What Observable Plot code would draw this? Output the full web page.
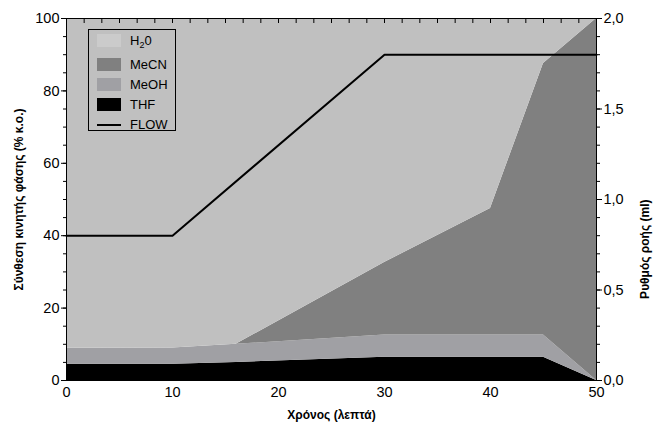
<!DOCTYPE html>
<html>
<head>
<meta charset="utf-8">
<script src="https://cdn.jsdelivr.net/npm/d3@7"></script>
<script src="https://cdn.jsdelivr.net/npm/@observablehq/plot@0.6"></script>
<style>
  html, body { margin: 0; padding: 0; background: #fff; }
  #wrap { position: relative; width: 659px; height: 435px; font-family: "Liberation Sans", Arial, sans-serif; }
  #wrap svg { position: absolute; left: 0; top: 0; }
  g[aria-label$="axis label"] text { font-weight: bold; font-size: 12px; }
  #legend { position: absolute; left: 88px; top: 29px; width: 88px; height: 102px; border: 1px solid #000; box-sizing: border-box; font-size: 13px; color: #000; }
  .item { position: absolute; left: 0; height: 14px; }
  .sw { position: absolute; left: 8px; width: 24px; }
  .lab { position: absolute; left: 41px; white-space: nowrap; line-height: 14px; }
  .lab sub { font-size: 9px; vertical-align: -3px; line-height: 0; }
</style>
</head>
<body>
<div id="wrap"></div>
<script>
// ---- data ----
const times = [0, 10, 16, 30, 40, 45, 50];            // min
const thf   = [4.5, 4.5, 5.0, 6.4, 6.4, 6.4, 0];
const meoh  = [4.4, 4.5, 5.0, 6.2, 6.2, 6.2, 0];
const mecn  = [0, 0, 0, 20.0, 34.9, 75.0, 100];
const h2o   = [91.1, 91.0, 90.0, 67.4, 52.5, 12.4, 0];
const seriesNames = ["THF", "MeOH", "MeCN", "H2O"];
const seriesColors = ["#000000", "#a0a0a4", "#808080", "#c0c0c0"];

const flowTimes  = [0, 10, 30, 50];
const flowValues = [0.8, 0.8, 1.8, 1.8];                // ml

const xTicks = [0, 10, 20, 30, 40, 50];
const yTicks = [0, 20, 40, 60, 80, 100];
const flowTicks = [0, 0.5, 1.0, 1.5, 2.0];
const flowTickLabels = ["0,0", "0,5", "1,0", "1,5", "2,0"];
const flowMax = 2.0;
const rightTitle = "Ρυθμός ροής (ml)";

const legendItems = [
  {label: "H<sub>2</sub>0", color: "#cbcbcb", type: "box"},
  {label: "MeCN", color: "#808080", type: "box"},
  {label: "MeOH", color: "#a0a0a4", type: "box"},
  {label: "THF", color: "#000000", type: "box"},
  {label: "FLOW", color: "#000000", type: "line"}
];

// ---- build tables ----
const seriesData = {THF: thf, MeOH: meoh, MeCN: mecn, H2O: h2o};
const rows = [];
for (const s of seriesNames) times.forEach((t, i) => rows.push({t, v: seriesData[s][i], s}));
const flowRows = flowTimes.map((t, i) => ({t, f: flowValues[i]}));
const toY = f => f / flowMax * 100;

const topMinor = d3.range(0, 50.001, 50 / 30);
const leftMinor = d3.range(0, 100.001, 5);

const chart = Plot.plot({
  width: 659, height: 435,
  marginLeft: 66, marginRight: 63, marginTop: 18, marginBottom: 55,
  style: {fontFamily: "'Liberation Sans', Arial, sans-serif", fontSize: "14.5px", background: "transparent", color: "#000"},
  x: {domain: [0, 50]},
  y: {domain: [0, 100]},
  color: {type: "ordinal", domain: seriesNames, range: seriesColors},
  marks: [
    Plot.areaY(rows, {x: "t", y: "v", z: "s", fill: "s", order: seriesNames, curve: "linear"}),
    Plot.line(flowRows, {x: "t", y: d => toY(d.f), stroke: "#000", strokeWidth: 2}),
    Plot.frame({stroke: "#000"}),
    Plot.axisY({anchor: "left", ticks: leftMinor, tickSize: 3, tickFormat: () => "", label: null}),
    Plot.axisY({anchor: "left", ticks: yTicks, tickSize: 5, tickPadding: 2,
      label: "Σύνθεση κινητής φάσης (% κ.ο.)", labelAnchor: "center", labelArrow: "none", labelOffset: 52}),
    Plot.axisY({anchor: "right", ticks: leftMinor, tickSize: 3, tickFormat: () => "", label: null}),
    Plot.axisY({anchor: "right", ticks: flowTicks.map(toY), tickSize: 5, tickPadding: 2,
      tickFormat: (d, i) => flowTickLabels[i], label: null}),
    Plot.text([rightTitle], {frameAnchor: "right", text: d => d, rotate: -90, dx: 49,
      fontWeight: "bold", fontSize: 12, fill: "#000"}),
    Plot.axisX({anchor: "bottom", ticks: xTicks, tickSize: 0, tickPadding: 6,
      label: "Χρόνος (λεπτά)", labelAnchor: "center", labelArrow: "none", labelOffset: 38}),
    Plot.axisX({anchor: "top", ticks: topMinor, tickSize: -4, tickFormat: () => "", label: null})
  ]
});
const wrap = document.getElementById("wrap");
wrap.appendChild(chart);

// legend (HTML overlay)
const lg = document.createElement("div");
lg.id = "legend";
const tops = [4, 28, 48, 68, 88];
legendItems.forEach((it, i) => {
  const item = document.createElement("div");
  item.className = "item";
  item.style.top = tops[i] + "px";
  const sw = document.createElement("div");
  sw.className = "sw";
  sw.style.background = it.color;
  if (it.type === "box") { sw.style.top = "0px"; sw.style.height = "13px"; }
  else { sw.style.top = "6px"; sw.style.height = "2px"; }
  const lab = document.createElement("div");
  lab.className = "lab";
  lab.style.top = "0px";
  lab.innerHTML = it.label;
  item.appendChild(sw); item.appendChild(lab);
  lg.appendChild(item);
});
wrap.appendChild(lg);
</script>
</body>
</html>
